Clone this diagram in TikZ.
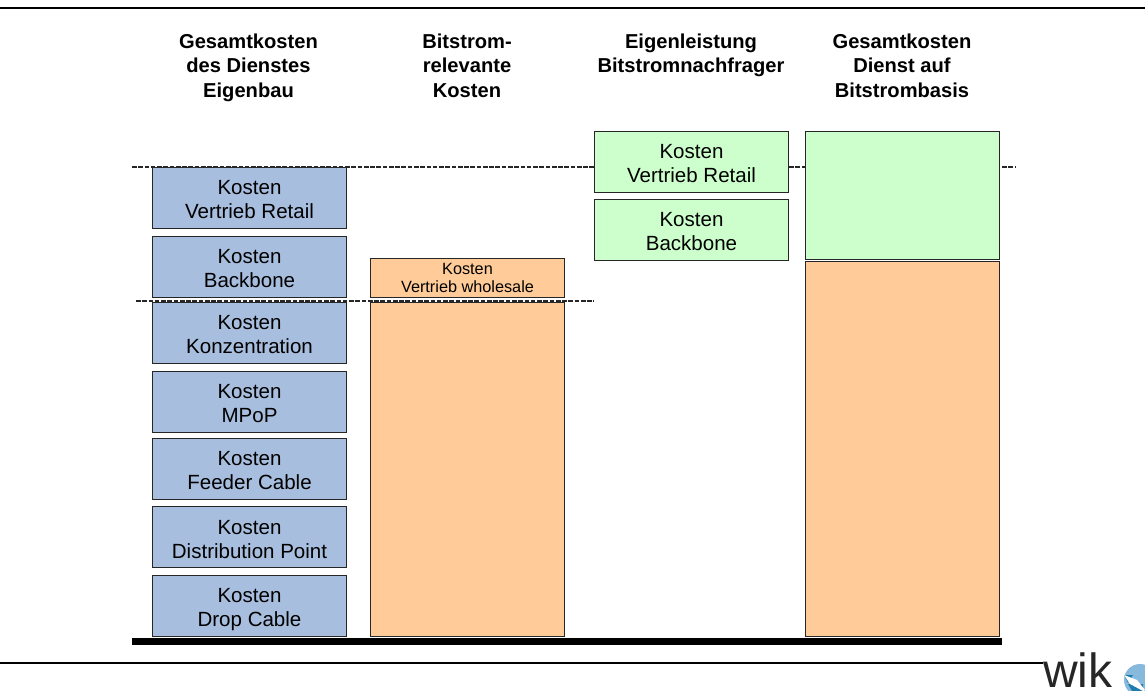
\documentclass[tikz,border=0pt]{standalone}
\usepackage{fontspec}
\setmainfont{Liberation Sans}
\definecolor{myblue}{RGB}{168,190,222}
\definecolor{mygreen}{RGB}{204,255,204}
\definecolor{myorange}{RGB}{255,204,153}
\definecolor{logolight}{RGB}{135,185,220}
\definecolor{logodark}{RGB}{30,125,175}
\newcommand\kostenline[1]{\rule{0pt}{\dimexpr 11pt+2\dimexpr #1pt\relax\relax}Kosten}
\tikzset{
  costbox/.style={draw=black!85,line width=1.05pt,minimum width=193.6*0.75pt,inner sep=0pt,align=center,font=\fontsize{15.4pt}{18pt}\selectfont,anchor=north west},
  bluebox/.style={costbox,fill=myblue,minimum height=60.6*0.75pt},
  greenbox/.style={costbox,fill=mygreen,minimum height=60.6*0.75pt},
  orangebox/.style={costbox,fill=myorange},
  headtext/.style={align=center,font=\fontsize{15.1pt}{18.4pt}\selectfont\bfseries,anchor=north},
  dashline/.style={dash pattern=on 3.5pt off 1.2pt,line width=0.8pt,black!85},
  ruleline/.style={black,line width=1.7pt}
}
\begin{document}
\begin{tikzpicture}[x=0.75pt,y=-0.75pt]
\useasboundingbox (0,0) rectangle (1145,691);
\coordinate (d1a) at (132,167); \coordinate (d1b) at (594,167);
\coordinate (d1c) at (789,167); \coordinate (d1d) at (1015,167);
\coordinate (d2a) at (136,301); \coordinate (d2b) at (594,301);
\draw[dashline] (d1a) -- (d1b);
\draw[dashline] (d1c) -- (d1d);
\draw[dashline] (d2a) -- (d2b);
\draw[ruleline] (0,8) -- (1145,8);
\draw[ruleline] (0,663) -- (1043,663);
\fill[black] (132,638) rectangle (1002,645);
\node[headtext] (h1) at (248.5,29) {Gesamtkosten\\des Dienstes\\Eigenbau};
\node[headtext] (h2) at (467,29) {Bitstrom-\\relevante\\Kosten};
\node[headtext] (h3) at (691,29) {Eigenleistung\\Bitstromnachfrager};
\node[headtext] (h4) at (902,29) {Gesamtkosten\\Dienst auf\\Bitstrombasis};
\node[bluebox] (b1) at (152,167) {\kostenline{0.75}\\Vertrieb Retail};
\node[bluebox] (b2) at (152,236) {\kostenline{1}\\Backbone};
\node[bluebox] (b3) at (152,302) {\kostenline{1}\\Konzentration};
\node[bluebox] (b4) at (152,371) {\kostenline{0.75}\\MPoP};
\node[bluebox] (b5) at (152,438) {\kostenline{0.75}\\Feeder Cable};
\node[bluebox] (b6) at (152,506) {\kostenline{1.5}\\Distribution Point};
\node[bluebox] (b7) at (152,575) {\kostenline{2.2}\\Drop Cable};
\node[orangebox,minimum height=38.6*0.75pt,font=\fontsize{12.2pt}{14pt}\selectfont] (o1) at (370,258) {Kosten\\Vertrieb wholesale};
\node[orangebox,minimum height=334*0.75pt] (o2) at (370,302) {};
\node[greenbox] (g1) at (594,131) {\kostenline{0.75}\\Vertrieb Retail};
\node[greenbox] (g2) at (594,199) {\kostenline{0.75}\\Backbone};
\node[costbox,fill=mygreen,minimum height=128*0.75pt] (g3) at (805,131) {};
\node[orangebox,minimum height=375*0.75pt] (o3) at (805,261) {};
\node[font=\fontsize{36pt}{36pt}\selectfont,text=black!85,inner sep=0pt,anchor=base west] (wik) at (1043,687) {wik};
\begin{scope}
\clip (1115,645) rectangle (1145,691);
\fill[logolight] (1140,680) circle (16);
\fill[logodark] (1124,675) -- (1133,675) -- (1128,683) -- cycle;
\fill[logodark] (1128,684) -- (1143,684) -- (1143,691) -- (1132,691) -- cycle;
\fill[white] (1124,675) -- (1137,680) -- (1145,690) -- (1143,691) -- (1130,684) -- cycle;
\end{scope}
\end{tikzpicture}
\end{document}
